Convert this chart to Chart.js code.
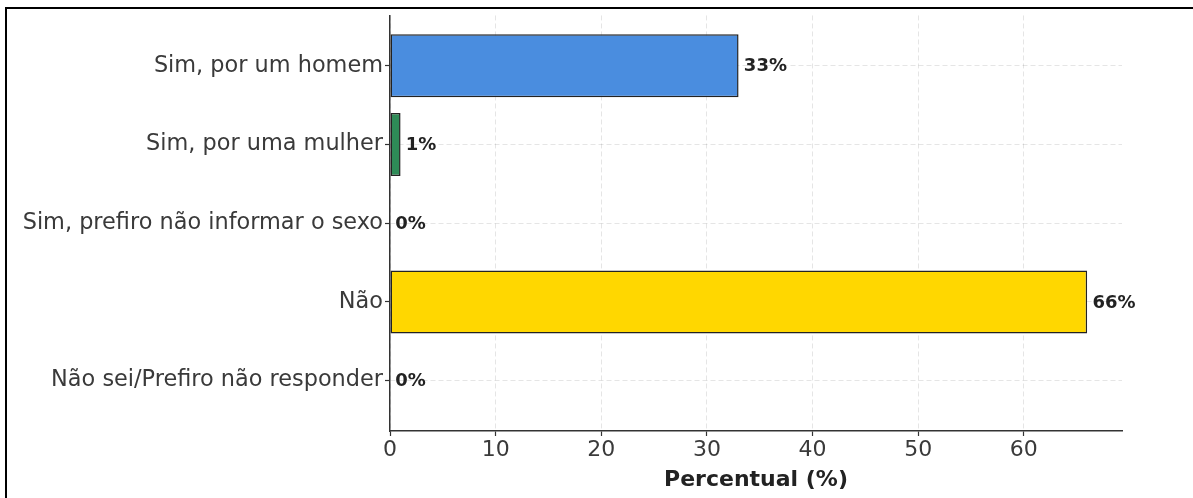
<!DOCTYPE html>
<html>
<head>
<meta charset="utf-8">
<script src="https://cdn.jsdelivr.net/npm/chart.js@4/dist/chart.umd.min.js"></script>
<style>
  html, body { margin: 0; padding: 0; background: #fff; }
  #wrap { position: relative; width: 1193px; height: 498px; overflow: hidden; }
  #frame { position: absolute; left: 5px; top: 7px; width: 1400px; height: 700px;
           border-left: 2px solid #000; border-top: 2px solid #000; pointer-events: none; }
  canvas { position: absolute; left: 0; top: 0; }
</style>
</head>
<body>
<div id="wrap">
  <canvas id="c" width="1193" height="498"></canvas>
  <div id="frame"></div>
</div>
<script>
const categories = [
  "Sim, por um homem",
  "Sim, por uma mulher",
  "Sim, prefiro não informar o sexo",
  "Não",
  "Não sei/Prefiro não responder"
];
const percentValues = [33, 1, 0, 66, 0];
const barColors = ["#4a8ddf", "#2e8b57", "#d9534f", "#ffd700", "#999999"];
const xTickValues = [0, 10, 20, 30, 40, 50, 60];
const xAxisTitle = "Percentual (%)";

Chart.defaults.font.family = "'DejaVu Sans', sans-serif";

const valueLabels = {
  id: 'valueLabels',
  afterDatasetsDraw(chart) {
    const ctx = chart.ctx;
    const xs = chart.scales.x;
    const meta = chart.getDatasetMeta(0);
    ctx.save();
    ctx.font = "bold 18px 'DejaVu Sans', sans-serif";
    ctx.fillStyle = '#222';
    ctx.textAlign = 'left';
    ctx.textBaseline = 'middle';
    meta.data.forEach((bar, i) => {
      const v = percentValues[i];
      ctx.fillText(v + '%', xs.getPixelForValue(v + 0.5), bar.y + 1);
    });
    ctx.restore();
  }
};

new Chart(document.getElementById('c'), {
  type: 'bar',
  data: {
    datasets: [{
      data: percentValues.map((v, i) => ({ x: v, y: i })),
      backgroundColor: barColors,
      borderColor: '#222',
      borderWidth: 1.5,
      borderSkipped: false,
      barPercentage: 0.8,
      categoryPercentage: 1.0
    }]
  },
  options: {
    indexAxis: 'y',
    responsive: false,
    animation: false,
    layout: { padding: { top: 12, right: 71, bottom: 0, left: 0 } },
    plugins: { legend: { display: false }, tooltip: { enabled: false } },
    scales: {
      x: {
        type: 'linear',
        position: 'bottom',
        min: 0,
        max: 69.3,
        offset: false,
        afterFit(s) { s.height = 67; },
        afterBuildTicks(s) { s.ticks = xTickValues.map(v => ({ value: v })); },
        ticks: {
          stepSize: 10,
          includeBounds: false,
          color: '#3a3a3a',
          font: { size: 22 },
          padding: 1,
          maxRotation: 0
        },
        grid: {
          offset: false,
          color: 'rgba(0,0,0,0.10)',
          lineWidth: 1,
          drawTicks: true,
          tickLength: 5,
          tickColor: '#333',
          tickWidth: 1.2
        },
        border: { display: true, color: '#333', width: 1.5, dash: [5, 3] },
        title: {
          display: true,
          text: xAxisTitle,
          color: '#222',
          font: { size: 22, weight: 'bold' },
          padding: { top: 1, bottom: 5 }
        }
      },
      y: {
        type: 'linear',
        position: 'left',
        reverse: true,
        min: -0.64,
        max: 4.64,
        offset: false,
        afterFit(s) { s.width = 390; },
        ticks: {
          stepSize: 1,
          includeBounds: false,
          color: '#3a3a3a',
          font: { size: 22.4 },
          padding: 2,
          callback: (v) => categories[v] !== undefined ? categories[v] : ''
        },
        grid: {
          offset: false,
          color: 'rgba(0,0,0,0.10)',
          lineWidth: 1,
          drawTicks: true,
          tickLength: 5,
          tickColor: '#333',
          tickWidth: 1.2
        },
        border: { display: true, color: '#333', width: 1.5, dash: [5, 3] }
      }
    }
  },
  plugins: [valueLabels]
});
</script>
</body>
</html>
